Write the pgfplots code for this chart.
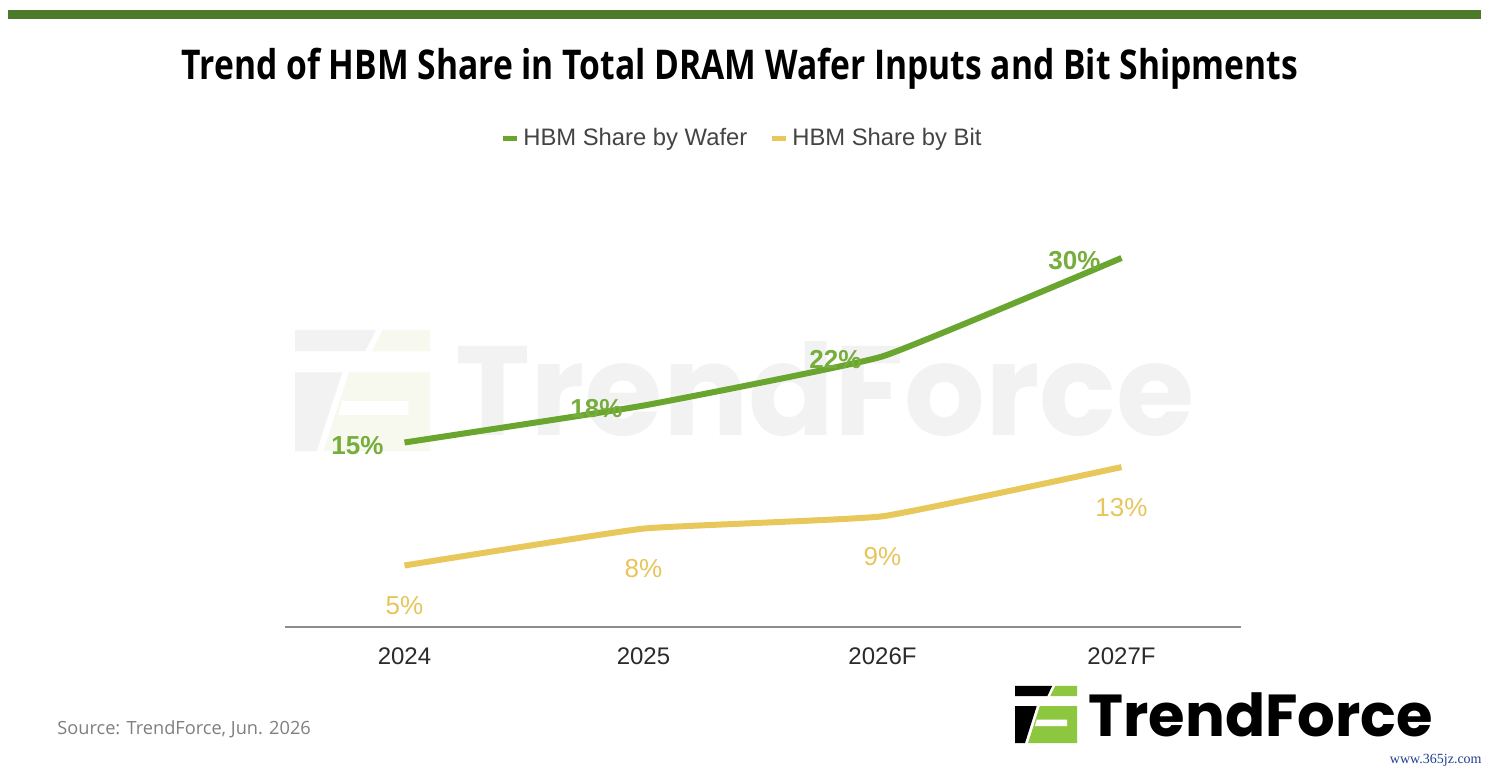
\documentclass[border=0pt]{standalone}
\usepackage{fontspec}
\usepackage{pgfplots}
\pgfplotsset{compat=1.18}
\setmainfont{Liberation Sans}
\newfontfamily\titlefont{Open Sans}[FakeStretch=0.82]
\newfontfamily\osfont{Open Sans}
\newfontfamily\logofont{Poppins}
\newfontfamily\wwwfont{Liberation Serif}
\definecolor{topbar}{HTML}{4B7A2B}
\definecolor{gline}{HTML}{6AA530}
\definecolor{glab}{HTML}{76AD3C}
\definecolor{yline}{HTML}{E9C85B}
\definecolor{ylab}{HTML}{E8C55A}
\definecolor{axgray}{HTML}{8C8C8C}
\definecolor{tickc}{HTML}{2B2B2B}
\definecolor{legc}{HTML}{444444}
\definecolor{srcc}{HTML}{7F7F7F}
\definecolor{wmgray}{HTML}{F2F2F2}
\definecolor{wmgreen}{HTML}{F7F9EE}
\definecolor{logogreen}{HTML}{8DC63F}
\definecolor{wwwc}{HTML}{1F3F8F}
\tikzset{
  tflogo/.pic={
    \fill[pic actions, fill=\tfblack] (0,0.83) -- (0.52,0.83) -- (0.60,1) -- (0,1) -- cycle;
    \fill[fill=\tfgreen] (0.57,0.83) -- (1,0.83) -- (1,1) -- (0.65,1) -- cycle;
    \fill[fill=\tfblack] (0,0.03) -- (0.16,0.03) -- (0.35,0.66) -- (0,0.66) -- cycle;
    \fill[fill=\tfgreen] (0.21,0.03) -- (1,0.03) -- (1,0.66) -- (0.40,0.66) -- cycle;
    \fill[white] (0.32,0.32) -- (0.84,0.32) -- (0.84,0.43) -- (0.35,0.43) -- cycle;
  }
}
\begin{document}
\begin{tikzpicture}[x=1pt,y=1pt]
\useasboundingbox (0,0) rectangle (746,385);
\fill[white] (0,0) rectangle (746,385);
% top bar
\fill[topbar] (4,375.5) rectangle (740.5,380);
% title
\node[anchor=base, inner sep=0pt] at (370,345) {\titlefont\bfseries\fontsize{20.5pt}{23pt}\selectfont Trend of HBM Share in Total DRAM Wafer Inputs and Bit Shipments};
% watermark
\def\tfblack{wmgray}\def\tfgreen{wmgreen}
\pic[xscale=67.5,yscale=62.5] at (147.5,157.5) {tflogo};
\node[anchor=base west, inner sep=0pt, text=wmgray] at (227.5,167) {\logofont\bfseries\fontsize{63.5pt}{70pt}\selectfont TrendForce};
% chart
\begin{axis}[
  at={(142.5pt,71.5pt)}, anchor=south west,
  scale only axis, width=478pt, height=196.8pt,
  xmin=-0.5, xmax=3.5, ymin=0, ymax=32,
  axis x line*=bottom, axis y line=none,
  x axis line style={draw=axgray, line width=1pt},
  xtick={0,1,2,3}, xticklabels={2024,2025,2026F,2027F},
  major tick length=0pt, ytick=\empty,
  xticklabel style={font=\fontsize{12pt}{14pt}\selectfont, text=tickc, yshift=-7pt},
  clip=false,
  legend style={at={(0.479,1.242)}, anchor=center, draw=none, fill=none,
    font=\fontsize{11.9pt}{14pt}\selectfont, text=legc, legend columns=2,
    /tikz/every even column/.append style={column sep=9pt}},
  legend image code/.code={\draw[#1, line width=2.5pt, line cap=butt] (0pt,0pt) -- (7pt,0pt);},
]
\addplot[gline, line width=3pt, line join=round, smooth, tension=0.2,
  point meta=explicit symbolic,
  nodes near coords={\pgfplotspointmeta\%},
  nodes near coords style={anchor=east, inner sep=0pt, xshift=-9pt, yshift=-1.5pt,
    font=\bfseries\fontsize{13pt}{15pt}\selectfont, text=glab}]
  coordinates {(0,15) [15] (1,18) [18] (2,22) [22] (3,30) [30]};
\addlegendentry{HBM Share by Wafer}
\addplot[yline, line width=3pt, line join=round, smooth, tension=0.2,
  point meta=explicit symbolic,
  nodes near coords={\pgfplotspointmeta\%},
  nodes near coords style={anchor=center, inner sep=0pt, yshift=-20pt,
    font=\fontsize{13pt}{15pt}\selectfont, text=ylab}]
  coordinates {(0,5) [5] (1,8) [8] (2,9) [9] (3,13) [13]};
\addlegendentry{HBM Share by Bit}
\end{axis}
% source
\node[anchor=base west, inner sep=0pt, text=srcc] at (28.5,17.5) {\osfont\fontsize{9.1pt}{11pt}\selectfont Source: TrendForce, Jun. 2026};
% logo
\def\tfblack{black}\def\tfgreen{logogreen}
\pic[xscale=31,yscale=29.5] at (507.5,12.5) {tflogo};
\node[anchor=base west, inner sep=0pt, text=black] at (544,16.5) {\logofont\bfseries\fontsize{29.6pt}{32pt}\selectfont TrendForce};
\node[anchor=base east, inner sep=0pt, text=wwwc] at (741,3) {\wwwfont\fontsize{7pt}{8pt}\selectfont www.365jz.com};
\end{tikzpicture}
\end{document}
